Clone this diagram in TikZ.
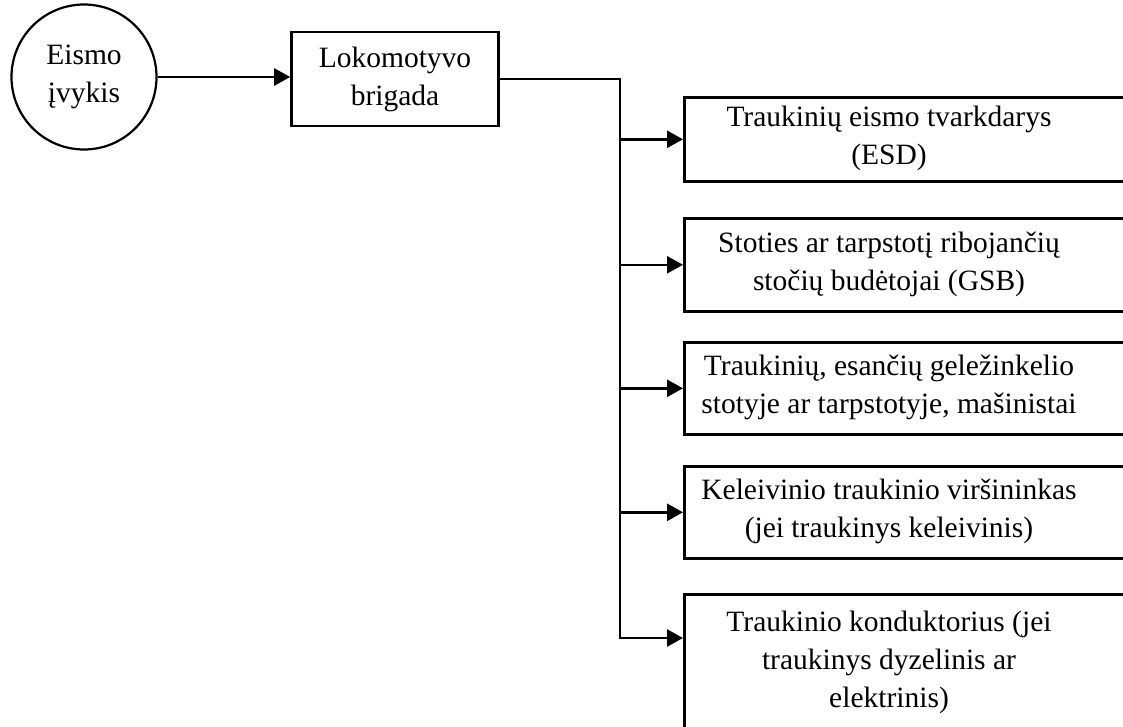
\documentclass[tikz,border=0pt]{standalone}
\usepackage{fontspec}
\setmainfont{Liberation Serif}
\usetikzlibrary{arrows.meta,positioning}

\begin{document}
\begin{tikzpicture}[x=1pt,y=-1pt,
        box/.style={draw, line width=2.6pt, rectangle, anchor=north west, minimum width=470pt},
        txt/.style={align=center, font=\fontsize{29.5}{38}\selectfont, inner sep=0pt},
        link/.style={line width=2.6pt, -{Triangle[length=16pt,width=17pt]}}]
        \useasboundingbox (0,0) rectangle (1123,726);
        \clip (0,0) rectangle (1123,726);
        \node (ev) at (84,77) [draw, circle, line width=2.2pt, minimum size=145pt, txt] {Eismo\\įvykis};
        \node (lok) at (395,79) [draw, line width=2.6pt, minimum width=207pt, minimum height=94pt, txt] {Lokomotyvo\\brigada};
        \node (b1) at (683,96) [box, minimum height=84pt] {};
        \node (b2) at (683,217) [box, minimum height=93pt] {};
        \node (b3) at (683,341) [box, minimum height=92pt] {};
        \node (b4) at (683,465) [box, minimum height=92pt] {};
        \node (b5) at (683,593) [box, minimum height=180pt] {};
        \node (t1) at (889,138) [txt] {Traukinių eismo tvarkdarys\\(ESD)};
        \node (t2) at (889,264) [txt] {Stoties ar tarpstotį ribojančių\\stočių budėtojai (GSB)};
        \node (t3) at (889,387) [txt] {Traukinių, esančių geležinkelio\\stotyje ar tarpstotyje, mašinistai};
        \node (t4) at (889,511) [txt] {Keleivinio traukinio viršininkas\\(jei traukinys keleivinis)};
        \node (t5) at (889,662) [txt] {Traukinio konduktorius (jei\\traukinys dyzelinis ar\\elektrinis)};
        \coordinate (bus) at (lok.east -| 620,0);
        \coordinate (a5) at ([yshift=-45pt]b5.north west);
        \draw[link] (ev.east) -- (lok.west |- ev.east);
        \draw[link] (lok.east) -- (bus) |- (a5);
        \foreach \b in {b1,b2,b3,b4}
            \draw[link] (bus) |- (\b.west);
\end{tikzpicture}
\end{document}
